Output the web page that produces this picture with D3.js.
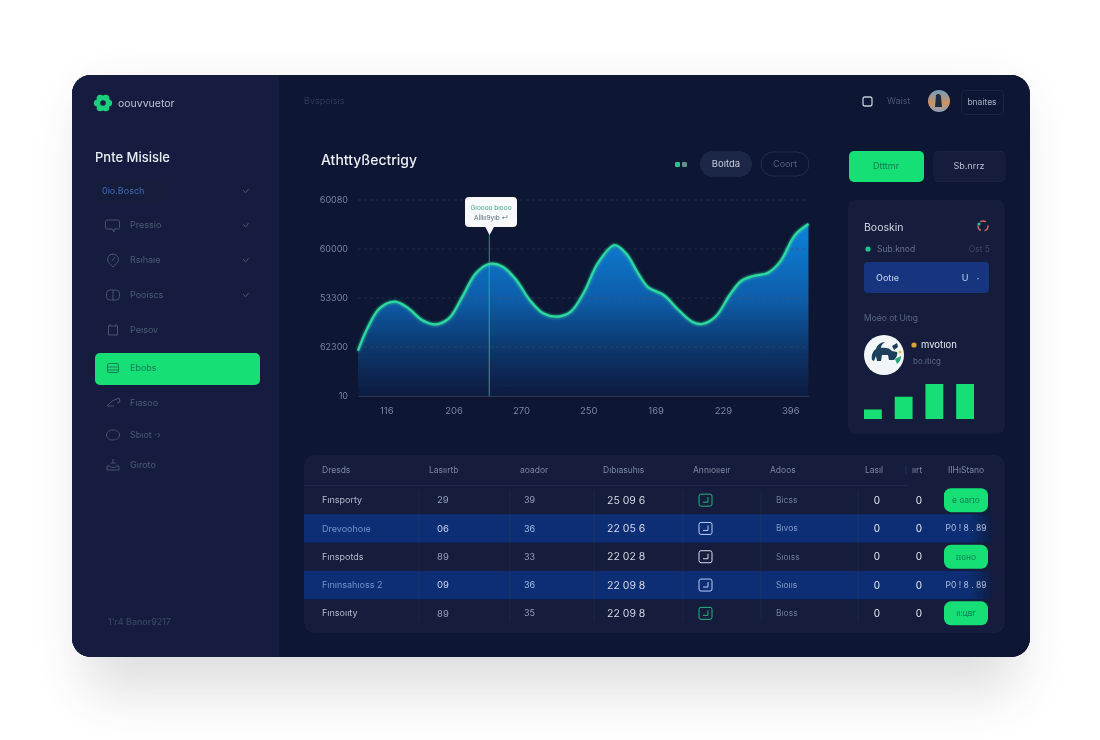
<!DOCTYPE html>
<html>
<head>
<meta charset="utf-8">
<title>Dashboard</title>
<script src="https://cdn.jsdelivr.net/npm/d3@7"></script>
<style>
    html, body { margin: 0; padding: 0; background: #fff; }
    svg { display: block; }
    text { font-family: Inter, Roboto, "Noto Sans", sans-serif; }
</style>
</head>
<body>
<svg id="canvas" width="1100" height="740"></svg>
<script>
// chart data
const curveX = [-0.42, -0.28, -0.10, 0.13, 0.33, 0.53, 0.73, 0.93, 1.13, 1.33, 1.53, 1.73, 1.93, 2.13, 2.33, 2.54, 2.74, 2.94, 3.14, 3.39, 3.56, 3.74, 3.89, 4.12, 4.34, 4.54, 4.69, 4.89, 5.10, 5.27, 5.45, 5.67, 5.85, 6.07, 6.27];
const curveY = [1850, 2762, 3578, 3850, 3578, 3102, 2925, 3170, 4054, 5007, 5388, 5279, 4735, 3918, 3374, 3238, 3442, 4258, 5415, 6163, 5823, 5007, 4435, 4122, 3510, 3034, 2939, 3238, 4122, 4694, 4898, 5034, 5483, 6571, 7020];
const yTickValues = [0, 2000, 4000, 6000, 8000];
const yTickLabels = ['10', '62300', '53300', '60000', '60080'];
const xTickValues = [0, 1, 2, 3, 4, 5, 6];
const xTickLabels = ['116', '206', '270', '250', '169', '229', '396'];
const markerX = 1.53;

const sideBarValues = [3, 7, 11, 11];
const sideBarNames = ['a', 'b', 'c', 'd'];

// sidebar
const navLabels = ['Pressio', 'Rsıhaıe', 'Pooiscs', 'Peısov', 'Ebobs', 'Fıasoo', 'Sbıot ·›', 'Gıroto'];
const navChevrons = [true, true, true, false, false, false, false, false];
const navActive = 4;
const navIcons = [
    'M107 -5h11a1.5 1.5 0 0 1 1.5 1.5v6a1.5 1.5 0 0 1-1.5 1.5h-4v3l-2-3h-5a1.5 1.5 0 0 1-1.5-1.5v-6a1.5 1.5 0 0 1 1.5-1.5z',
    'M113 -6a5.5 5.5 0 0 1 3.5 9.7l-3.5 3.3l-3.5-3.3a5.5 5.5 0 0 1 3.5-9.7zM115 -3l-3 4',
    'M110 -5h6a3.5 3.5 0 0 1 3.5 3.5v3a3.5 3.5 0 0 1-3.5 3.5h-6a3.5 3.5 0 0 1-3.5-3.5v-3a3.5 3.5 0 0 1 3.5-3.5zM113 -5v10',
    'M108.5 -4h9v9h-9zM110 -6v2M116 -6v2',
    'M109 -4.5h8a1.5 1.5 0 0 1 1.5 1.5v6a1.5 1.5 0 0 1-1.5 1.5h-8a1.5 1.5 0 0 1-1.5-1.5v-6a1.5 1.5 0 0 1 1.5-1.5zM107.5 -1h11M107.5 2h11',
    'M107 3l5-5l7-3l1 4l-3 1M107 3h7',
    'M113 -5c4 0 6.5 2.2 6.5 5s-2.5 5-6.5 5s-6.5-2.2-6.5-5s2.500-5 6.500-5z',
    'M113 -6v4M110.500 -2h5M107 1h3c0 2 6 2 6 0h3v4h-12z'
];

// table
const tableHeaders = ['Dresds', 'Lasıırtb', 'aoador', 'Dıbıasuhıs', 'Annıoııeır', 'Adoos', 'Lasıl', 'ıırt', 'IIHıStano'];
const rowNames = ['Fınsporty', 'Drevoohoıe', 'Fınspotds', 'Fınınsahıoss 2', 'Fınsoııty'];
const rowCol2 = ['29', '06', '89', '09', '89'];
const rowCol3 = ['39', '36', '33', '36', '35'];
const rowCol4 = ['25 09 6', '22 05 6', '22 02 8', '22 09 8', '22 09 8'];
const rowStatus = ['Bicss', 'Bıvos', 'Sıoıss', 'Sıoııs', 'Bıoss'];
const rowAction = ['e ɢаrɪo', 'P0 ! 8 . 89', 'ɪɪɢнo', 'P0 ! 8 . 89', 'ıı:цвr'];
const rowHighlight = [false, true, false, true, false];
const rowIcon = ['#2bb583', '#b9cdf0', '#d8dde8', '#b9cdf0', '#2bb583'];

const svg = d3.select('#canvas');
const defs = svg.append('defs');

const shadow = defs.append('filter').attr('id', 'cardShadow')
    .attr('x', '-20%').attr('y', '-20%').attr('width', '140%').attr('height', '140%');
shadow.append('feGaussianBlur').attr('stdDeviation', 26);

const glow = defs.append('filter').attr('id', 'glow')
    .attr('x', '-10%').attr('y', '-10%').attr('width', '120%').attr('height', '120%');
glow.append('feGaussianBlur').attr('stdDeviation', 1.4).attr('result', 'b');
let glowMerge = glow.append('feMerge');
glowMerge.append('feMergeNode').attr('in', 'b');
glowMerge.append('feMergeNode').attr('in', 'SourceGraphic');

const soft = defs.append('filter').attr('id', 'soft')
    .attr('x', 0).attr('y', 0).attr('width', '100%').attr('height', '100%');
soft.append('feGaussianBlur').attr('stdDeviation', 0.4);

const gridPattern = defs.append('pattern').attr('id', 'plotGrid')
    .attr('patternUnits', 'userSpaceOnUse').attr('width', 11).attr('height', 11);
gridPattern.append('path').attr('d', 'M11 0H0V11').attr('fill', 'none')
    .attr('stroke', '#121b3b').attr('stroke-width', 0.7);

const areaGrad = defs.append('linearGradient').attr('id', 'areaGrad')
    .attr('gradientUnits', 'userSpaceOnUse')
    .attr('x1', 0).attr('x2', 0).attr('y1', 222).attr('y2', 396);
areaGrad.append('stop').attr('offset', '0%').attr('stop-color', '#0f83dc');
areaGrad.append('stop').attr('offset', '45%').attr('stop-color', '#0f5da8');
areaGrad.append('stop').attr('offset', '75%').attr('stop-color', '#0e3468');
areaGrad.append('stop').attr('offset', '100%').attr('stop-color', '#0c1a3e');

const avatarGrad = defs.append('linearGradient').attr('id', 'avatarGrad')
    .attr('x1', 0).attr('x2', 0).attr('y1', 0).attr('y2', 1);
avatarGrad.append('stop').attr('offset', '0%').attr('stop-color', '#6f9dbd');
avatarGrad.append('stop').attr('offset', '60%').attr('stop-color', '#d09260');
avatarGrad.append('stop').attr('offset', '100%').attr('stop-color', '#8aa0c2');

const rowFade = defs.append('linearGradient').attr('id', 'rowFade');
rowFade.append('stop').attr('offset', '0%').attr('stop-color', '#0f2f75');
rowFade.append('stop').attr('offset', '96%').attr('stop-color', '#0f2f75');
rowFade.append('stop').attr('offset', '100%').attr('stop-color', '#0f2f75').attr('stop-opacity', 0);

const clipCard = defs.append('clipPath').attr('id', 'clipCard');
clipCard.append('rect').attr('x', 72).attr('y', 75).attr('width', 958).attr('height', 582).attr('rx', 19);

const label = (parent, x, y, str, size, fill, opts = {}) => parent.append('text')
    .attr('x', x).attr('y', y)
    .attr('dy', '0.35em')
    .attr('font-size', size)
    .attr('fill', fill)
    .attr('font-weight', opts.weight || 400)
    .attr('text-anchor', opts.anchor || 'start')
    .text(str);

const box = (parent, x, y, w, h, r, fill, stroke) => parent.append('rect')
    .attr('x', x).attr('y', y).attr('width', w).attr('height', h).attr('rx', r)
    .attr('fill', fill).attr('stroke', stroke || 'none');

// card
box(svg, 85, 95, 932, 597, 20, '#3a3a42').attr('opacity', 0.16).attr('filter', 'url(#cardShadow)');
box(svg, 72, 75, 958, 582, 19, '#0a1230');
const softGroup = svg.append('g').attr('filter', 'url(#soft)');
const card = softGroup.append('g').attr('clip-path', 'url(#clipCard)');
box(card, 72, 75, 958, 582, 0, '#0a1230');
box(card, 72, 75, 207, 582, 0, '#141f3f');
box(card, 279, 75, 751, 380, 0, 'url(#plotGrid)').attr('opacity', 0.3);

// sidebar
const side = card.append('g');
const logo = side.append('g').attr('transform', 'translate(103,103)');
logo.selectAll('circle').data([0, 60, 120, 180, 240, 300]).enter().append('circle')
    .attr('cx', d => 5.5 * Math.cos(d * Math.PI / 180))
    .attr('cy', d => 5.5 * Math.sin(d * Math.PI / 180))
    .attr('r', 3.6).attr('fill', '#1fcf7d');
logo.append('circle').attr('r', 2.8).attr('fill', '#141f3f');
label(side, 118, 103, 'oouvvuetor', 10.5, '#b9c2d4');
label(side, 95, 157, 'Pnte Misisle', 13, '#e8ecf4', { weight: 500 });
box(side, 96, 178, 70, 25, 3, '#121c3b');
label(side, 102, 191, '0io.Bosch', 9, '#3c6fb5');
side.append('path').attr('d', 'M243 190l2.5 3l3-4').attr('fill', 'none').attr('stroke', '#47526f');

const navY = [225, 260, 295, 330, 368, 403, 435, 465];
box(side, 95, 353, 165, 32, 5, '#17e074');
const nav = side.selectAll('g.nav').data(navLabels).enter().append('g').attr('class', 'nav')
    .attr('transform', (d, i) => 'translate(0,' + navY[i] + ')');
nav.append('text')
    .attr('x', 130).attr('dy', '0.35em').attr('font-size', 9)
    .attr('fill', (d, i) => i === navActive ? '#0f7f55' : '#4e5977')
    .text(d => d);
nav.append('path')
    .attr('d', (d, i) => navIcons[i])
    .attr('fill', 'none')
    .attr('stroke', (d, i) => i === navActive ? '#0f7f55' : '#47526f');
nav.filter((d, i) => navChevrons[i]).append('path')
    .attr('d', 'M243 -1l2.5 3l3 -4').attr('fill', 'none').attr('stroke', '#47526f');
label(side, 108, 622, "1'r4 Banor9217", 9, '#3f4a68');

// top bar
const topBar = card.append('g');
label(topBar, 304, 101, 'Bvspoisis', 9, '#323d5c');
topBar.append('rect').attr('x', 863).attr('y', 97).attr('width', 9).attr('height', 9).attr('rx', 2)
    .attr('fill', 'none').attr('stroke', '#c3cad8').attr('stroke-width', 1.3);
label(topBar, 887, 101, 'Waist', 9, '#4d5874');
topBar.append('circle').attr('cx', 939).attr('cy', 101).attr('r', 11).attr('fill', 'url(#avatarGrad)');
topBar.append('path').attr('d', 'M936 95c2-2 5-1 5 2l1 10h-7z').attr('fill', '#1d2a40');
box(topBar, 961.5, 90.5, 42, 24, 3, '#0d1533', '#1c2543');
label(topBar, 982, 102, 'bnaites', 8.5, '#a9b2c6', { anchor: 'middle' });

// chart header
label(topBar, 321, 160, 'Athttyßectrigy', 14, '#eceff6', { weight: 500 });
box(topBar, 675, 162, 5, 5, 1, '#19c98c');
box(topBar, 682, 162, 5, 5, 1, '#5e8f86');
box(topBar, 700, 151, 52, 26, 13, '#1e2747');
label(topBar, 726, 164, 'Boıtda', 9.5, '#c5ccdc', { anchor: 'middle' });
box(topBar, 761, 152, 48, 24, 12, 'none', '#252f4e');
label(topBar, 785, 164, 'Coort', 9, '#5a6580', { anchor: 'middle' });
box(topBar, 849, 151, 75, 31, 5, '#17e074');
label(topBar, 886, 166, 'Dtttmr', 9, '#0d7a50', { anchor: 'middle' });
box(topBar, 934, 151.5, 71, 30, 4, '#131b3a', '#1a2342');
label(topBar, 969, 166, 'Sb.nrrz', 9, '#b9c1d2', { anchor: 'middle' });

// area chart
const x = d3.scaleLinear().domain([-0.42, 6.27]).range([358, 808.5]);
const y = d3.scaleLinear().domain([0, 8000]).range([396, 200]);
const points = curveX.map((d, i) => [d, curveY[i]]);
const chart = card.append('g');

const area = d3.area().x(d => x(d[0])).y0(y(0)).y1(d => y(d[1])).curve(d3.curveCatmullRom.alpha(0.5));
const line = d3.line().x(d => x(d[0])).y(d => y(d[1])).curve(d3.curveCatmullRom.alpha(0.5));

chart.append('path').datum(points).attr('d', area).attr('fill', 'url(#areaGrad)');

const yAxis = chart.append('g').attr('transform', 'translate(358,0)')
    .call(d3.axisLeft(y).tickValues(yTickValues).tickSize(0).tickPadding(10)
        .tickFormat((d, i) => yTickLabels[i]));
yAxis.select('.domain').remove();
yAxis.selectAll('text').attr('fill', '#7f889f').attr('font-size', 9)
    .attr('font-family', 'Inter, Roboto, sans-serif');
yAxis.selectAll('line.grid').data(yTickValues.slice(1)).enter().append('line')
    .attr('class', 'grid')
    .attr('x1', 0).attr('x2', 450)
    .attr('y1', d => y(d)).attr('y2', d => y(d))
    .attr('stroke', '#3b4764').attr('stroke-opacity', 0.55).attr('stroke-dasharray', '3 3');

const xAxis = chart.append('g').attr('transform', 'translate(0,396)')
    .call(d3.axisBottom(x).tickValues(xTickValues).tickSize(0).tickPadding(11)
        .tickFormat((d, i) => xTickLabels[i]));
xAxis.select('.domain').attr('stroke', '#2c3754');
xAxis.selectAll('text').attr('fill', '#7f889f').attr('font-size', 9.5)
    .attr('font-family', 'Inter, Roboto, sans-serif');

chart.append('line')
    .attr('x1', x(markerX)).attr('x2', x(markerX))
    .attr('y1', 232).attr('y2', y(0))
    .attr('stroke', '#2bb79a').attr('stroke-opacity', 0.7).attr('stroke-width', 1.2);

chart.append('path').datum(points).attr('d', line)
    .attr('fill', 'none').attr('stroke', '#2ed9a0').attr('stroke-width', 2.2)
    .attr('filter', 'url(#glow)');

// tooltip
const tip = chart.append('g');
tip.append('path')
    .attr('d', 'M469 197h44a4 4 0 0 1 4 4v22a4 4 0 0 1-4 4h-19l-4.4 8l-4.4-8h-16.2a4 4 0 0 1-4-4v-22a4 4 0 0 1 4-4z')
    .attr('fill', '#f7f9fb');
label(tip, 491, 207.5, 'Gıoooo bıooo', 6.5, '#3ca886', { anchor: 'middle' });
label(tip, 491, 217.5, 'Aİllıı9yıb ↵', 6.5, '#5a6b7b', { anchor: 'middle' });

// right panel
const panel = card.append('g');
box(panel, 848, 200, 157, 234, 8, '#141d3b');
label(panel, 864, 227, 'Booskin', 10.5, '#cfd5e2');
panel.append('circle').attr('cx', 983).attr('cy', 226).attr('r', 5)
    .attr('fill', 'none').attr('stroke', '#c8675f').attr('stroke-width', 1.5).attr('stroke-dasharray', '6 4');
panel.append('circle').attr('cx', 979).attr('cy', 224).attr('r', 1.5).attr('fill', '#27c79a');
panel.append('circle').attr('cx', 868).attr('cy', 249).attr('r', 2.6).attr('fill', '#1fc98b');
label(panel, 877, 249, 'Sub.knod', 8.5, '#66718d');
label(panel, 990, 249, 'Ost 5', 8.5, '#3e4964', { anchor: 'end' });
box(panel, 864, 262, 125, 31, 4, '#14347e');
label(panel, 876, 278, 'Ootıe', 9, '#b9c8e6', { weight: 500 });
label(panel, 965, 278, 'U', 9, '#c7d3ec', { anchor: 'middle' });
label(panel, 978, 278, '·', 10, '#c7d3ec', { anchor: 'middle' });
label(panel, 864, 318, 'Moéo ot Uıtıg', 8.5, '#5d6884');
panel.append('circle').attr('cx', 884).attr('cy', 355).attr('r', 20).attr('fill', '#f3f6f8');
panel.append('path')
    .attr('d', 'M872 360c-1-5 1-9 4-11c1-4 5-7 9-7c-3 2-4 4-4 6c4-1 9 0 11 3l5 1c1 3-1 6-3 8h-5l-1-5h-6l-1 6h-4l-1-5l-2 5z')
    .attr('fill', '#1d3f5c');
panel.append('path').attr('d', 'M892 346l5-3l1 4l-4 3z').attr('fill', '#1d3f5c');
panel.append('path').attr('d', 'M895 359l6-3c0 3-1 6-4 8z').attr('fill', '#2aa37a');
panel.append('circle').attr('cx', 900).attr('cy', 352).attr('r', 1.6).attr('fill', '#d9c13a');
panel.append('circle').attr('cx', 914).attr('cy', 345).attr('r', 2.6).attr('fill', '#d9a33a');
label(panel, 921, 345, 'mvotıon', 9.5, '#e6eaf2');
label(panel, 913, 361, 'bo.ıtıcg', 8, '#5d6884');

const barX = d3.scaleBand().domain(sideBarNames).range([864, 974]).paddingInner(0.42).paddingOuter(0);
const barY = d3.scaleLinear().domain([0, 11]).range([419, 384]);
panel.selectAll('rect.bar').data(sideBarValues).enter().append('rect')
    .attr('class', 'bar')
    .attr('x', (d, i) => barX(sideBarNames[i]))
    .attr('y', d => barY(d))
    .attr('width', barX.bandwidth())
    .attr('height', d => barY(0) - barY(d))
    .attr('fill', '#17e074');

// table
const table = card.append('g');
box(table, 304, 455, 701, 178, 9, '#121b3a');
const headerX = [322, 429, 520, 603, 693, 770, 865, 912, 948];
tableHeaders.forEach((h, i) => label(table, headerX[i], 470, h, 8.5, '#7f89a2'));
table.append('line').attr('x1', 304).attr('x2', 908).attr('y1', 485.5).attr('y2', 485.5).attr('stroke', '#1f294a');
table.append('line').attr('x1', 906).attr('x2', 906).attr('y1', 465).attr('y2', 474).attr('stroke', '#2a3556');

const rowBand = d3.scaleBand().domain(d3.range(rowNames.length)).range([486, 627.5]);
const rows = table.selectAll('g.row').data(rowNames).enter().append('g').attr('class', 'row')
    .attr('transform', (d, i) => 'translate(0,' + rowBand(i) + ')');
const rh = rowBand.bandwidth();
rows.filter((d, i) => rowHighlight[i]).append('rect')
    .attr('x', 304).attr('width', 692).attr('height', rh).attr('fill', 'url(#rowFade)');

const cell = (xPos, values, size, fill, anchor) => rows.append('text')
    .attr('x', xPos).attr('y', rh / 2).attr('dy', '0.35em')
    .attr('font-size', size)
    .attr('text-anchor', anchor || 'start')
    .attr('fill', (d, i) => typeof fill === 'function' ? fill(i) : fill)
    .text((d, i) => values[i]);

cell(322, rowNames, 9, i => rowHighlight[i] ? '#6f93cf' : '#b4bccd');
cell(437, rowCol2, 9.5, i => rowHighlight[i] ? '#cdd9f0' : '#98a2b8');
cell(524, rowCol3, 9, i => rowHighlight[i] ? '#a9bee2' : '#98a2b8');
cell(607, rowCol4, 10.5, '#d5dbe8');
cell(776, rowStatus, 8.5, i => rowHighlight[i] ? '#7f98c8' : '#727d98');
cell(877, rowNames.map(() => '0'), 10, '#e6eaf2', 'middle');
cell(919, rowNames.map(() => '0'), 10, '#e6eaf2', 'middle');

[419, 510, 594, 683, 761, 858].forEach(sep => {
    table.append('line').attr('x1', sep).attr('x2', sep).attr('y1', 490).attr('y2', 622)
        .attr('stroke', '#2a3556').attr('stroke-opacity', 0.55);
});

rows.append('rect')
    .attr('x', 699).attr('y', rh / 2 - 6).attr('width', 13).attr('height', 12).attr('rx', 2)
    .attr('fill', 'none')
    .attr('stroke', (d, i) => rowIcon[i]);
rows.append('path')
    .attr('d', 'M703 ' + (rh / 2 + 2) + 'h5v-5')
    .attr('fill', 'none')
    .attr('stroke', (d, i) => rowIcon[i]);

rows.filter((d, i) => !rowHighlight[i]).append('rect')
    .attr('x', 944).attr('y', rh / 2 - 12).attr('width', 44).attr('height', 24).attr('rx', 7)
    .attr('fill', '#17e074');
rows.append('text')
    .attr('x', 966).attr('y', rh / 2).attr('dy', '0.35em')
    .attr('text-anchor', 'middle')
    .attr('font-size', 8.5)
    .attr('fill', (d, i) => rowHighlight[i] ? '#aebfe0' : '#0f7f55')
    .text((d, i) => rowAction[i]);
</script>
</body>
</html>
